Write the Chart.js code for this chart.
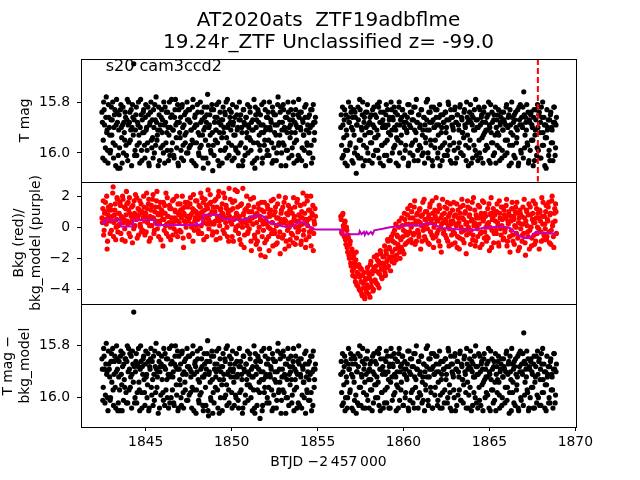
<!DOCTYPE html>
<html>
<head>
<meta charset="utf-8">
<script src="https://cdn.jsdelivr.net/npm/chart.js@4.4.1/dist/chart.umd.min.js"></script>
<style>
  body { margin: 0; background: #fff; }
  canvas { display: block; }
</style>
</head>
<body>
<canvas id="mycanvas" width="640" height="480"></canvas>
<script>
// BTJD - 2457000 (two orbits, gap around 1855.5); second block = in-between cadences
var btjd = [
  1842.45,1842.50,1842.55,1842.60,1842.65,1842.70,1842.75,1842.80,1842.85,1842.90,
  1842.95,1843.00,1843.05,1843.10,1843.15,1843.20,1843.25,1843.30,1843.35,1843.40,
  1843.45,1843.50,1843.55,1843.60,1843.65,1843.70,1843.75,1843.80,1843.85,1843.90,
  1843.95,1844.00,1844.05,1844.10,1844.15,1844.20,1844.25,1844.30,1844.35,1844.40,
  1844.45,1844.50,1844.55,1844.60,1844.65,1844.70,1844.75,1844.80,1844.85,1844.90,
  1844.95,1845.00,1845.05,1845.10,1845.15,1845.20,1845.25,1845.30,1845.35,1845.40,
  1845.45,1845.50,1845.55,1845.60,1845.65,1845.70,1845.75,1845.80,1845.85,1845.90,
  1845.95,1846.00,1846.05,1846.10,1846.15,1846.20,1846.25,1846.30,1846.35,1846.40,
  1846.45,1846.50,1846.55,1846.60,1846.65,1846.70,1846.75,1846.80,1846.85,1846.90,
  1846.95,1847.00,1847.05,1847.10,1847.15,1847.20,1847.25,1847.30,1847.35,1847.40,
  1847.45,1847.50,1847.55,1847.60,1847.65,1847.70,1847.75,1847.80,1847.85,1847.90,
  1847.95,1848.00,1848.05,1848.10,1848.15,1848.20,1848.25,1848.30,1848.35,1848.40,
  1848.45,1848.50,1848.55,1848.60,1848.65,1848.70,1848.75,1848.80,1848.85,1848.90,
  1848.95,1849.00,1849.05,1849.10,1849.15,1849.20,1849.25,1849.30,1849.35,1849.40,
  1849.45,1849.50,1849.55,1849.60,1849.65,1849.70,1849.75,1849.80,1849.85,1849.90,
  1849.95,1850.00,1850.05,1850.10,1850.15,1850.20,1850.25,1850.30,1850.35,1850.40,
  1850.45,1850.50,1850.55,1850.60,1850.65,1850.70,1850.75,1850.80,1850.85,1850.90,
  1850.95,1851.00,1851.05,1851.10,1851.15,1851.20,1851.25,1851.30,1851.35,1851.40,
  1851.45,1851.50,1851.55,1851.60,1851.65,1851.70,1851.75,1851.80,1851.85,1851.90,
  1851.95,1852.00,1852.05,1852.10,1852.15,1852.20,1852.25,1852.30,1852.35,1852.40,
  1852.45,1852.50,1852.55,1852.60,1852.65,1852.70,1852.75,1852.80,1852.85,1852.90,
  1852.95,1853.00,1853.05,1853.10,1853.15,1853.20,1853.25,1853.30,1853.35,1853.40,
  1853.45,1853.50,1853.55,1853.60,1853.65,1853.70,1853.75,1853.80,1853.85,1853.90,
  1853.95,1854.00,1854.05,1854.10,1854.15,1854.20,1854.25,1854.30,1854.35,1854.40,
  1854.45,1854.50,1854.55,1854.60,1854.65,1854.70,1854.75,1854.80,1854.85,
  1856.35,1856.40,1856.45,1856.50,1856.55,1856.60,1856.65,1856.70,1856.75,1856.80,
  1856.85,1856.90,1856.95,1857.00,1857.05,1857.10,1857.15,1857.20,1857.25,1857.30,
  1857.35,1857.40,1857.45,1857.50,1857.55,1857.60,1857.65,1857.70,1857.75,1857.80,
  1857.85,1857.90,1857.95,1858.00,1858.05,1858.10,1858.15,1858.20,1858.25,1858.30,
  1858.35,1858.40,1858.45,1858.50,1858.55,1858.60,1858.65,1858.70,1858.75,1858.80,
  1858.85,1858.90,1858.95,1859.00,1859.05,1859.10,1859.15,1859.20,1859.25,1859.30,
  1859.35,1859.40,1859.45,1859.50,1859.55,1859.60,1859.65,1859.70,1859.75,1859.80,
  1859.85,1859.90,1859.95,1860.00,1860.05,1860.10,1860.15,1860.20,1860.25,1860.30,
  1860.35,1860.40,1860.45,1860.50,1860.55,1860.60,1860.65,1860.70,1860.75,1860.80,
  1860.85,1860.90,1860.95,1861.00,1861.05,1861.10,1861.15,1861.20,1861.25,1861.30,
  1861.35,1861.40,1861.45,1861.50,1861.55,1861.60,1861.65,1861.70,1861.75,1861.80,
  1861.85,1861.90,1861.95,1862.00,1862.05,1862.10,1862.15,1862.20,1862.25,1862.30,
  1862.35,1862.40,1862.45,1862.50,1862.55,1862.60,1862.65,1862.70,1862.75,1862.80,
  1862.85,1862.90,1862.95,1863.00,1863.05,1863.10,1863.15,1863.20,1863.25,1863.30,
  1863.35,1863.40,1863.45,1863.50,1863.55,1863.60,1863.65,1863.70,1863.75,1863.80,
  1863.85,1863.90,1863.95,1864.00,1864.05,1864.10,1864.15,1864.20,1864.25,1864.30,
  1864.35,1864.40,1864.45,1864.50,1864.55,1864.60,1864.65,1864.70,1864.75,1864.80,
  1864.85,1864.90,1864.95,1865.00,1865.05,1865.10,1865.15,1865.20,1865.25,1865.30,
  1865.35,1865.40,1865.45,1865.50,1865.55,1865.60,1865.65,1865.70,1865.75,1865.80,
  1865.85,1865.90,1865.95,1866.00,1866.05,1866.10,1866.15,1866.20,1866.25,1866.30,
  1866.35,1866.40,1866.45,1866.50,1866.55,1866.60,1866.65,1866.70,1866.75,1866.80,
  1866.85,1866.90,1866.95,1867.00,1867.05,1867.10,1867.15,1867.20,1867.25,1867.30,
  1867.35,1867.40,1867.45,1867.50,1867.55,1867.60,1867.65,1867.70,1867.75,1867.80,
  1867.85,1867.90,1867.95,1868.00,1868.05,1868.10,1868.15,1868.20,1868.25,1868.30,
  1868.35,1868.40,1868.45,1868.50,1868.55,1868.60,1868.65,1868.70,1868.75,1868.80,
  1868.85,1868.90,
  1842.475,1842.525,1842.575,1842.625,1842.675,1842.725,1842.775,1842.825,1842.875,1842.925,
  1842.975,1843.025,1843.075,1843.125,1843.175,1843.225,1843.275,1843.325,1843.375,1843.425,
  1843.475,1843.525,1843.575,1843.625,1843.675,1843.725,1843.775,1843.825,1843.875,1843.925,
  1843.975,1844.025,1844.075,1844.125,1844.175,1844.225,1844.275,1844.325,1844.375,1844.425,
  1844.475,1844.525,1844.575,1844.625,1844.675,1844.725,1844.775,1844.825,1844.875,1844.925,
  1844.975,1845.025,1845.075,1845.125,1845.175,1845.225,1845.275,1845.325,1845.375,1845.425,
  1845.475,1845.525,1845.575,1845.625,1845.675,1845.725,1845.775,1845.825,1845.875,1845.925,
  1845.975,1846.025,1846.075,1846.125,1846.175,1846.225,1846.275,1846.325,1846.375,1846.425,
  1846.475,1846.525,1846.575,1846.625,1846.675,1846.725,1846.775,1846.825,1846.875,1846.925,
  1846.975,1847.025,1847.075,1847.125,1847.175,1847.225,1847.275,1847.325,1847.375,1847.425,
  1847.475,1847.525,1847.575,1847.625,1847.675,1847.725,1847.775,1847.825,1847.875,1847.925,
  1847.975,1848.025,1848.075,1848.125,1848.175,1848.225,1848.275,1848.325,1848.375,1848.425,
  1848.475,1848.525,1848.575,1848.625,1848.675,1848.725,1848.775,1848.825,1848.875,1848.925,
  1848.975,1849.025,1849.075,1849.125,1849.175,1849.225,1849.275,1849.325,1849.375,1849.425,
  1849.475,1849.525,1849.575,1849.625,1849.675,1849.725,1849.775,1849.825,1849.875,1849.925,
  1849.975,1850.025,1850.075,1850.125,1850.175,1850.225,1850.275,1850.325,1850.375,1850.425,
  1850.475,1850.525,1850.575,1850.625,1850.675,1850.725,1850.775,1850.825,1850.875,1850.925,
  1850.975,1851.025,1851.075,1851.125,1851.175,1851.225,1851.275,1851.325,1851.375,1851.425,
  1851.475,1851.525,1851.575,1851.625,1851.675,1851.725,1851.775,1851.825,1851.875,1851.925,
  1851.975,1852.025,1852.075,1852.125,1852.175,1852.225,1852.275,1852.325,1852.375,1852.425,
  1852.475,1852.525,1852.575,1852.625,1852.675,1852.725,1852.775,1852.825,1852.875,1852.925,
  1852.975,1853.025,1853.075,1853.125,1853.175,1853.225,1853.275,1853.325,1853.375,1853.425,
  1853.475,1853.525,1853.575,1853.625,1853.675,1853.725,1853.775,1853.825,1853.875,1853.925,
  1853.975,1854.025,1854.075,1854.125,1854.175,1854.225,1854.275,1854.325,1854.375,1854.425,
  1854.475,1854.525,1854.575,1854.625,1854.675,1854.725,1854.775,1854.825,1854.875,
  1856.375,1856.425,1856.475,1856.525,1856.575,1856.625,1856.675,1856.725,1856.775,1856.825,
  1856.875,1856.925,1856.975,1857.025,1857.075,1857.125,1857.175,1857.225,1857.275,1857.325,
  1857.375,1857.425,1857.475,1857.525,1857.575,1857.625,1857.675,1857.725,1857.775,1857.825,
  1857.875,1857.925,1857.975,1858.025,1858.075,1858.125,1858.175,1858.225,1858.275,1858.325,
  1858.375,1858.425,1858.475,1858.525,1858.575,1858.625,1858.675,1858.725,1858.775,1858.825,
  1858.875,1858.925,1858.975,1859.025,1859.075,1859.125,1859.175,1859.225,1859.275,1859.325,
  1859.375,1859.425,1859.475,1859.525,1859.575,1859.625,1859.675,1859.725,1859.775,1859.825,
  1859.875,1859.925,1859.975,1860.025,1860.075,1860.125,1860.175,1860.225,1860.275,1860.325,
  1860.375,1860.425,1860.475,1860.525,1860.575,1860.625,1860.675,1860.725,1860.775,1860.825,
  1860.875,1860.925,1860.975,1861.025,1861.075,1861.125,1861.175,1861.225,1861.275,1861.325,
  1861.375,1861.425,1861.475,1861.525,1861.575,1861.625,1861.675,1861.725,1861.775,1861.825,
  1861.875,1861.925,1861.975,1862.025,1862.075,1862.125,1862.175,1862.225,1862.275,1862.325,
  1862.375,1862.425,1862.475,1862.525,1862.575,1862.625,1862.675,1862.725,1862.775,1862.825,
  1862.875,1862.925,1862.975,1863.025,1863.075,1863.125,1863.175,1863.225,1863.275,1863.325,
  1863.375,1863.425,1863.475,1863.525,1863.575,1863.625,1863.675,1863.725,1863.775,1863.825,
  1863.875,1863.925,1863.975,1864.025,1864.075,1864.125,1864.175,1864.225,1864.275,1864.325,
  1864.375,1864.425,1864.475,1864.525,1864.575,1864.625,1864.675,1864.725,1864.775,1864.825,
  1864.875,1864.925,1864.975,1865.025,1865.075,1865.125,1865.175,1865.225,1865.275,1865.325,
  1865.375,1865.425,1865.475,1865.525,1865.575,1865.625,1865.675,1865.725,1865.775,1865.825,
  1865.875,1865.925,1865.975,1866.025,1866.075,1866.125,1866.175,1866.225,1866.275,1866.325,
  1866.375,1866.425,1866.475,1866.525,1866.575,1866.625,1866.675,1866.725,1866.775,1866.825,
  1866.875,1866.925,1866.975,1867.025,1867.075,1867.125,1867.175,1867.225,1867.275,1867.325,
  1867.375,1867.425,1867.475,1867.525,1867.575,1867.625,1867.675,1867.725,1867.775,1867.825,
  1867.875,1867.925,1867.975,1868.025,1868.075,1868.125,1868.175,1868.225,1868.275,1868.325,
  1868.375,1868.425,1868.475,1868.525,1868.575,1868.625,1868.675,1868.725,1868.775,1868.825,
  1868.875
];

// T mag (top panel)
var tmag = [
  15.84,16.02,15.80,15.89,15.98,15.78,15.91,16.04,15.86,15.93,
  15.99,15.82,15.87,15.96,15.90,15.83,16.05,15.79,15.88,16.01,
  15.85,16.06,15.81,15.94,15.89,16.00,15.92,15.84,15.97,15.87,
  16.03,15.80,15.88,15.95,15.83,15.90,15.86,15.65,16.01,15.91,
  15.82,15.97,15.89,15.93,16.04,15.79,15.99,15.87,15.84,15.92,
  16.02,15.81,15.90,15.96,15.85,16.05,15.88,15.80,15.98,15.94,
  15.83,16.00,15.87,15.78,15.95,15.91,15.82,16.03,15.89,15.86,
  15.92,15.97,15.80,16.04,15.88,15.84,15.99,15.90,15.93,16.01,
  15.86,15.79,15.96,15.91,16.02,15.83,15.89,15.98,15.81,16.05,
  15.88,15.94,15.99,15.82,15.90,16.03,15.85,15.96,15.92,15.80,
  16.00,15.87,15.83,15.97,15.91,15.95,15.79,16.04,15.86,15.89,
  15.96,15.81,15.92,16.01,15.98,15.88,15.84,15.93,16.06,15.82,
  15.90,16.02,15.85,15.77,15.97,15.89,15.93,16.00,15.81,16.07,
  15.83,15.88,15.95,15.91,15.86,16.03,15.80,15.92,15.99,15.87,
  16.04,15.82,15.90,15.84,15.98,15.94,15.79,15.89,16.01,15.86,
  15.91,15.97,15.81,15.88,16.02,15.93,15.99,15.85,15.90,16.05,
  15.80,15.87,15.96,15.92,16.03,15.83,15.89,15.98,15.86,15.94,
  16.00,15.90,15.82,15.95,15.88,16.04,15.91,15.79,16.06,15.85,
  15.87,15.96,15.84,15.93,15.99,15.89,15.81,16.02,15.92,15.97,
  15.83,15.90,16.01,15.86,15.95,15.80,15.91,15.88,16.04,15.84,
  15.98,15.92,15.85,16.03,15.89,15.78,15.96,15.93,15.82,16.00,
  15.88,15.81,15.97,15.91,16.05,15.86,15.99,15.84,15.90,15.94,
  15.83,16.01,15.87,15.80,15.96,15.92,15.89,16.03,15.85,15.79,
  16.02,15.90,15.84,15.98,15.88,15.93,15.82,16.05,15.91,15.97,
  15.86,15.92,16.00,15.83,16.04,15.89,15.81,15.95,15.88,
  15.90,15.97,15.82,16.01,15.87,16.04,15.85,15.93,15.99,15.80,
  15.88,15.96,15.84,16.03,15.91,15.83,16.00,15.86,16.08,15.89,
  15.82,16.02,15.79,15.95,15.90,15.85,16.05,15.88,15.93,15.84,
  15.98,15.81,15.89,16.03,15.86,15.92,15.96,15.83,16.01,15.90,
  15.85,15.94,15.91,15.99,15.82,15.80,16.04,15.88,15.97,15.87,
  15.84,16.01,15.90,15.81,15.95,15.89,16.03,15.86,15.93,15.83,
  16.00,15.87,15.82,15.97,15.91,15.94,15.85,16.05,15.80,15.89,
  15.96,15.86,15.83,16.02,15.90,15.99,15.88,15.92,15.81,16.04,
  15.89,15.84,15.97,15.87,16.01,15.82,15.91,15.95,15.79,15.88,
  16.03,15.85,15.90,15.98,15.83,15.93,16.00,15.86,15.89,15.96,
  15.87,15.79,16.02,15.91,15.84,15.97,15.88,16.05,15.82,15.90,
  15.95,15.86,15.83,16.00,15.89,15.81,15.98,15.92,16.03,15.85,
  15.88,15.96,15.84,15.90,16.01,15.80,15.87,15.97,15.83,16.04,
  15.86,15.91,15.99,15.82,15.88,16.02,15.85,15.89,15.96,15.81,
  16.00,15.87,15.92,15.94,15.83,15.90,16.03,15.86,15.88,15.98,
  15.84,15.81,16.04,15.89,15.86,15.97,15.91,15.79,16.01,15.87,
  15.90,15.95,15.83,16.02,15.85,15.88,15.93,15.82,15.99,15.91,
  15.86,15.98,15.80,15.89,16.04,15.92,15.84,15.96,15.87,16.00,
  15.82,15.90,15.97,15.85,15.93,16.03,15.88,15.84,15.99,15.91,
  15.87,16.01,15.89,15.81,15.95,15.86,16.05,15.83,15.92,15.80,
  15.97,15.88,15.85,16.02,15.90,15.94,15.83,16.04,15.87,15.81,
  16.00,15.89,15.82,15.76,15.98,15.86,15.91,15.96,15.84,16.03,
  15.88,15.85,15.95,15.90,16.05,15.83,15.93,15.87,16.01,15.81,
  15.99,15.84,15.92,16.02,15.86,15.80,15.97,15.89,15.94,16.06,
  15.83,15.90,16.01,15.87,15.85,15.96,15.91,16.03,15.82,15.88,
  15.98,15.86,
  15.88,15.95,15.83,16.03,15.86,15.92,15.99,15.81,15.90,16.00,
  15.87,15.93,15.80,16.02,15.85,15.97,15.89,15.84,16.06,15.91,
  15.98,15.83,15.90,16.04,15.82,15.88,15.95,15.86,16.01,15.79,
  15.89,15.96,15.84,15.91,16.05,15.81,15.93,15.87,15.99,15.85,
  16.01,15.88,15.80,15.96,15.90,15.85,16.03,15.92,15.83,15.97,
  15.86,15.91,15.99,15.82,16.04,15.89,15.84,15.95,15.87,16.02,
  15.90,15.81,15.97,15.88,15.93,16.05,15.85,15.91,15.98,15.83,
  15.87,16.00,15.89,15.82,15.96,15.92,15.84,16.03,15.80,15.90,
  15.99,15.85,15.91,16.01,15.86,15.79,15.94,15.88,16.04,15.83,
  15.92,15.86,16.02,15.81,15.97,15.89,15.93,15.84,16.00,15.87,
  15.83,15.98,15.88,15.91,16.03,15.82,15.96,15.90,15.85,16.05,
  15.89,15.84,16.00,15.93,15.80,15.97,15.87,16.02,15.91,15.86,
  15.95,15.88,15.82,16.04,15.90,15.85,15.99,15.83,15.92,15.97,
  16.01,15.86,15.91,15.81,15.96,15.88,16.05,15.84,15.89,15.94,
  15.87,15.92,15.99,15.85,15.80,16.02,15.90,15.96,15.83,15.88,
  15.84,16.03,15.89,15.93,15.86,15.98,15.82,15.91,16.00,15.87,
  15.97,15.85,15.90,16.05,15.83,15.88,16.01,15.86,15.92,15.81,
  15.89,15.94,15.84,15.99,15.91,15.87,15.96,16.03,15.82,15.90,
  16.02,15.83,15.88,15.97,15.85,15.92,16.04,15.89,15.80,15.95,
  15.91,15.86,15.99,15.84,16.01,15.90,15.87,15.96,15.82,16.03,
  15.85,15.89,15.93,16.00,15.81,15.97,15.88,15.84,16.05,15.91,
  15.96,15.83,15.90,15.86,15.99,15.92,15.80,16.02,15.87,15.89,
  15.92,15.98,15.85,16.04,15.88,15.83,15.95,15.90,16.01,15.86,
  15.84,15.91,16.03,15.87,15.93,15.99,15.86,15.81,15.96,15.89,
  16.00,15.85,15.90,15.97,15.83,16.02,15.88,15.92,15.86,
  15.85,16.02,15.89,15.94,15.83,15.99,15.91,16.05,15.86,15.88,
  15.97,15.82,15.90,15.86,16.04,15.93,15.84,15.98,15.89,16.01,
  15.87,15.95,15.83,16.02,15.91,15.80,15.97,15.86,16.03,15.90,
  15.84,16.00,15.92,15.88,15.96,15.85,16.04,15.89,15.82,15.94,
  15.99,15.86,15.81,15.93,16.02,15.88,15.84,15.97,15.90,16.05,
  15.89,15.96,15.85,16.01,15.83,15.92,15.87,16.03,15.80,15.91,
  15.86,15.98,15.90,15.84,16.04,15.89,15.95,15.82,16.00,15.87,
  15.93,15.83,16.02,15.88,15.85,15.97,15.91,15.86,16.05,15.81,
  16.00,15.90,15.84,15.96,15.87,16.03,15.82,15.92,15.88,15.99,
  15.85,15.97,15.89,15.83,16.01,15.91,15.86,16.04,15.94,15.80,
  15.91,16.00,15.84,15.88,15.95,15.82,16.03,15.87,15.90,15.98,
  15.83,15.89,16.02,15.93,15.86,16.05,15.85,15.90,15.97,15.88,
  16.01,15.84,15.92,15.87,15.99,15.81,15.94,16.03,15.86,15.89,
  15.90,15.96,15.83,16.04,15.88,15.85,15.98,15.91,15.82,16.00,
  15.86,15.92,16.01,15.84,15.89,15.97,15.80,15.93,16.05,15.87,
  15.95,15.88,15.85,16.02,15.91,15.83,15.99,15.87,15.90,16.03,
  15.82,16.00,15.89,15.86,15.94,16.04,15.84,15.92,15.88,15.97,
  15.91,15.85,16.03,15.90,15.81,15.96,15.88,16.01,15.85,15.93,
  16.04,15.87,15.92,15.83,15.98,15.89,15.86,16.02,15.91,15.84,
  15.88,15.95,15.82,16.00,15.90,15.85,15.97,15.89,16.04,15.86,
  15.93,16.01,15.87,15.84,15.96,15.91,16.05,15.82,15.89,15.99,
  15.86,15.90,16.02,15.85,15.93,15.88,15.81,15.97,16.04,15.87,
  15.99,15.84,15.89,15.95,15.86,16.03,15.91,15.83,15.98,15.90,
  15.85,16.02,15.88,15.82,15.97,15.92,15.86,16.05,15.89,15.94,
  15.91,15.87,15.99,16.03,15.84,15.90,15.96,15.88,15.82,16.01,
  15.89
];

// background flux (middle panel, red points)
var bkg = [
  0.6,1.2,-0.5,0.9,1.6,0.2,-1.4,0.8,1.1,0.4,
  1.4,-0.2,0.7,2.6,0.3,1.1,-0.8,0.5,1.8,0.1,
  0.9,1.6,-0.4,0.6,2.0,0.3,1.3,-0.9,0.8,1.5,
  0.2,1.1,1.9,-0.6,0.7,0.4,1.4,-0.1,0.9,2.1,
  0.5,-0.7,1.2,0.8,1.7,0.0,-0.3,1.0,0.6,1.3,
  -0.5,0.9,2.2,0.3,1.5,-0.9,0.7,1.1,0.1,1.8,
  0.6,-0.2,1.3,0.4,2.3,0.9,-0.6,0.2,1.6,0.8,
  1.0,-1.2,0.5,1.4,0.1,-0.4,1.9,0.7,0.3,1.2,
  -0.8,0.6,1.7,0.2,-0.1,1.1,0.5,2.0,-0.6,0.9,
  0.3,1.5,-0.3,0.8,1.2,-1.3,0.4,1.6,0.0,0.7,
  1.3,-0.5,0.6,1.9,0.2,0.9,-0.9,1.1,0.4,1.7,
  0.1,0.8,-0.2,1.4,0.6,2.2,-0.4,1.0,1.6,0.3,
  1.8,0.7,-0.6,1.2,0.5,1.5,2.1,0.2,1.0,-0.3,
  0.9,1.7,0.4,-0.8,1.3,0.6,2.3,0.1,1.1,0.8,
  1.5,-0.2,0.7,1.9,0.3,1.2,-0.6,0.9,2.5,0.4,
  1.1,0.2,1.6,-0.9,0.6,2.4,0.0,0.8,1.3,-0.4,
  0.7,1.4,-1.1,0.3,2.5,0.9,-0.5,0.5,1.2,0.1,
  -0.3,1.0,0.4,1.8,-1.5,0.6,0.2,1.3,-0.7,0.8,
  0.3,-0.9,1.5,0.0,0.7,-1.8,1.1,0.4,-0.2,1.6,
  -1.9,0.6,0.2,1.2,-0.6,0.9,-0.1,1.7,0.3,-1.2,
  0.8,-0.4,1.3,0.1,-1.0,0.6,2.0,-0.3,0.5,1.1,
  -0.7,0.3,1.6,-1.4,0.4,0.9,-0.2,1.4,0.0,-0.8,
  1.2,0.2,-0.5,1.9,0.7,-1.1,0.4,1.6,-0.3,0.8,
  0.1,1.4,-0.9,0.6,2.2,-0.2,0.9,-1.3,0.3,1.7,
  0.5,-0.6,1.1,2.0,-0.1,0.8,-1.5,0.4,1.2,
  0.7,-0.3,0.8,0.1,-0.6,0.4,-1.1,-0.2,-1.6,-0.7,
  -2.0,-0.9,-2.5,-1.4,-3.1,-1.8,-2.3,-3.5,-1.6,-2.9,
  -3.8,-2.4,-3.2,-4.1,-2.7,-4.4,-3.6,-2.9,-4.6,-3.3,
  -4.2,-2.6,-3.9,-3.1,-4.5,-2.2,-3.5,-2.8,-4.0,-1.9,
  -3.4,-2.5,-1.8,-3.7,-2.2,-3.0,-1.5,-2.7,-3.3,-1.9,
  -2.4,-1.2,-3.1,-1.7,-2.6,-0.9,-2.0,-1.4,-2.8,-0.6,
  -1.6,-0.4,-2.3,-1.0,0.2,-1.8,-0.6,-1.3,0.4,-2.0,
  -0.8,0.6,-1.5,-0.2,0.9,-1.1,0.2,-0.5,1.2,-0.9,
  -0.3,1.4,0.0,-1.0,0.6,-0.4,1.7,0.2,-0.9,0.9,
  0.4,-0.6,1.2,-1.4,0.1,0.8,-0.2,1.8,0.5,-0.8,
  1.0,-0.1,0.6,-1.1,1.5,0.3,-0.5,0.9,-1.3,0.2,
  0.7,1.9,-0.4,0.4,-0.9,1.2,0.0,-1.6,0.8,0.3,
  -0.2,1.3,0.5,-0.7,1.6,0.1,-1.2,0.9,0.4,-0.5,
  1.1,-0.3,0.7,-1.0,0.2,1.5,-0.6,0.6,-1.4,0.9,
  0.0,1.8,-0.8,0.5,-0.2,1.0,-1.7,0.3,1.3,-0.4,
  0.8,-1.1,0.4,1.6,-0.5,0.1,1.1,-0.9,0.6,-0.1,
  1.4,0.2,-1.3,0.7,-0.3,1.7,0.5,-0.7,0.9,0.0,
  -0.6,1.2,0.3,-1.5,0.8,1.9,-0.2,0.6,-1.0,1.0,
  0.4,-0.4,1.5,0.1,-1.2,0.9,-0.1,1.3,0.5,-0.8,
  1.1,-0.3,0.6,1.8,-0.9,0.2,0.8,-1.6,0.4,1.2,
  -0.5,0.7,-1.1,1.0,0.0,1.6,-0.7,0.3,-1.3,0.9,
  0.2,-0.9,1.3,-0.4,0.6,-1.8,1.1,0.1,-0.6,1.5,
  -0.2,0.8,-1.2,0.5,1.7,-0.5,0.3,-0.9,1.2,0.0,
  0.6,-1.4,1.0,-0.3,1.9,0.2,-0.8,0.7,-0.1,1.4,
  -0.6,0.4,1.6,-1.0,0.9,-0.2,2.0,0.3,-1.3,1.2,
  1.5,-0.4,
  0.3,1.7,-0.2,1.0,0.5,2.0,-0.9,1.3,0.6,-0.4,
  1.1,0.4,2.2,-0.6,0.8,1.5,0.0,1.9,-0.3,0.9,
  0.2,1.4,0.7,-0.8,1.8,0.5,-0.1,1.2,2.3,0.4,
  1.6,-0.4,0.9,0.3,1.3,-1.0,0.6,1.7,0.1,0.8,
  1.9,0.6,-0.5,1.1,0.2,1.5,0.9,-0.2,2.0,0.4,
  0.7,-0.3,1.2,0.5,1.8,0.1,-0.7,1.4,0.6,2.1,
  -0.4,1.0,0.3,1.7,-0.1,0.8,1.3,0.4,-0.8,1.1,
  0.5,1.6,-0.2,0.9,2.2,0.2,0.7,-0.6,1.4,0.0,
  1.2,0.3,-0.5,1.8,0.6,1.0,-0.3,0.4,1.5,0.8,
  -0.2,1.1,0.6,2.0,-0.7,0.9,1.3,0.2,0.7,1.6,
  0.4,-0.6,1.5,0.8,0.0,1.2,2.1,-0.2,0.6,1.0,
  1.7,0.5,-0.4,0.9,1.3,0.1,1.9,0.7,-0.8,1.1,
  0.6,1.4,0.2,2.4,-0.1,0.8,1.6,0.3,-0.5,1.3,
  0.2,1.0,1.8,-0.3,0.7,2.0,0.4,-0.7,1.2,0.5,
  0.9,2.2,-0.4,0.6,1.4,0.0,1.1,-0.9,0.7,1.8,
  0.3,-0.6,1.2,0.5,1.7,-0.2,0.9,2.3,0.1,0.6,
  -0.8,0.4,1.5,0.0,0.8,-1.3,1.1,0.3,2.0,-0.4,
  1.4,-0.1,0.6,-0.9,1.0,0.2,1.9,-0.5,0.7,-1.1,
  0.9,-0.3,1.2,-1.4,0.5,1.6,-0.6,0.2,1.0,-1.0,
  0.4,-0.8,1.4,0.0,-1.5,0.7,1.1,-0.4,0.3,1.8,
  -0.2,1.0,-1.1,0.6,1.5,-0.6,0.2,-1.7,0.9,0.4,
  1.3,-0.5,0.5,1.9,-0.9,0.1,0.8,-1.2,1.1,0.3,
  -0.4,0.9,-1.0,0.5,1.3,0.0,-0.7,1.8,0.4,-0.2,
  0.7,-1.1,1.0,0.2,-0.5,1.5,0.5,-0.8,2.0,0.1,
  1.1,-0.3,0.6,-1.2,0.9,1.4,-0.4,0.2,0.7,
  0.5,-0.4,0.9,-0.1,0.3,-0.8,0.0,-1.3,-0.5,-1.8,
  -1.1,-2.3,-1.6,-2.8,-2.0,-2.6,-3.2,-2.1,-3.7,-2.5,
  -3.0,-4.0,-2.6,-3.5,-4.3,-3.1,-3.9,-4.5,-3.4,-4.1,
  -3.7,-2.9,-4.3,-3.3,-2.4,-3.8,-3.0,-4.1,-2.6,-3.4,
  -2.8,-3.6,-2.1,-2.9,-3.9,-2.4,-1.7,-3.2,-2.3,-2.7,
  -1.9,-2.9,-1.5,-2.2,-0.8,-2.5,-1.3,-1.9,-0.7,-2.2,
  -0.9,-1.9,-0.2,-1.4,-2.1,-0.5,-1.1,0.0,-1.6,-0.7,
  -1.3,0.1,-0.6,-1.7,0.5,-0.3,-1.0,0.8,-0.4,0.2,
  0.6,-0.8,1.0,0.2,-0.5,1.3,-1.1,0.4,0.8,-0.2,
  -0.4,1.1,0.3,0.7,-0.9,1.6,0.1,-0.6,1.0,0.5,
  0.2,-1.0,0.8,1.3,-0.3,0.5,1.7,-0.7,0.0,1.1,
  -0.6,0.5,1.0,-0.2,1.4,-1.2,0.6,0.2,1.8,-0.4,
  0.9,-0.5,0.3,1.2,-0.9,0.7,-0.1,1.5,0.2,-1.1,
  0.4,1.6,-0.4,0.8,0.1,-1.3,1.1,0.3,-0.7,1.3,
  -0.3,0.6,1.4,-1.0,0.9,0.2,-0.5,1.7,0.0,0.7,
  1.2,-0.2,0.5,-0.8,1.9,0.3,-1.2,0.8,0.1,-0.6,
  0.6,1.3,-0.4,0.9,-1.1,0.4,1.6,-0.3,0.7,-0.9,
  0.2,-0.7,1.5,0.0,0.9,-1.3,0.5,1.2,-0.4,0.8,
  -0.2,1.0,0.3,-1.0,1.7,0.6,-0.5,0.1,1.3,-0.7,
  0.8,-0.1,1.4,-1.2,0.4,1.0,-0.6,0.7,-0.2,1.6,
  -0.9,0.5,0.1,1.3,-0.4,0.9,-1.5,0.6,1.1,-0.1,
  0.7,-0.5,0.2,1.8,-1.0,0.4,1.0,-0.3,0.8,-1.4,
  1.3,0.0,-0.7,0.9,0.3,-1.1,1.5,0.6,-0.4,0.9,
  -0.1,1.1,0.4,-0.9,0.7,1.6,-0.5,0.2,1.0,-0.8,
  0.5,1.3,-0.3,0.8,-1.1,1.7,0.1,-0.6,0.9,0.4,
  1.0
];

// T mag - bkg_model (bottom panel)
var tmagCorr = [
  15.85,16.01,15.81,15.89,15.99,15.79,15.90,16.05,15.87,15.92,
  16.00,15.83,15.86,15.97,15.91,15.84,16.04,15.80,15.89,16.02,
  15.86,16.05,15.82,15.95,15.88,16.01,15.93,15.85,15.98,15.86,
  16.02,15.81,15.89,15.96,15.84,15.91,15.87,15.67,16.02,15.90,
  15.83,15.98,15.88,15.94,16.05,15.80,15.98,15.88,15.85,15.93,
  16.03,15.82,15.91,15.95,15.86,16.04,15.89,15.81,15.99,15.93,
  15.84,16.01,15.88,15.79,15.96,15.90,15.83,16.04,15.88,15.87,
  15.93,15.98,15.81,16.03,15.89,15.85,16.00,15.91,15.92,16.02,
  15.87,15.80,15.97,15.90,16.03,15.84,15.88,15.99,15.82,16.04,
  15.89,15.95,16.00,15.83,15.91,16.04,15.86,15.97,15.91,15.81,
  16.01,15.88,15.84,15.98,15.90,15.96,15.80,16.05,15.87,15.88,
  15.97,15.82,15.93,16.02,15.99,15.89,15.85,15.92,16.05,15.83,
  15.91,16.03,15.86,15.78,16.07,15.90,15.94,16.01,15.82,16.06,
  15.84,15.89,15.96,15.90,15.87,16.04,15.81,15.93,16.00,15.88,
  16.05,15.83,15.91,15.85,15.99,15.95,15.80,15.90,16.02,15.87,
  15.92,15.98,15.82,15.89,16.03,15.92,16.00,15.86,15.91,16.04,
  15.81,15.88,15.97,15.93,16.04,15.84,15.90,15.99,15.87,15.95,
  16.01,15.91,15.83,15.96,15.89,16.05,15.92,15.80,16.06,15.86,
  15.88,15.97,15.85,15.94,16.08,15.90,15.82,16.03,15.93,15.98,
  15.84,15.91,16.02,15.87,15.96,15.81,15.92,15.89,16.05,15.85,
  15.99,15.93,15.86,16.04,15.90,15.79,15.97,15.94,15.83,16.01,
  15.89,15.82,15.98,15.92,16.06,15.87,16.00,15.85,15.91,15.95,
  15.84,16.02,15.88,15.81,15.97,15.93,15.90,16.04,15.86,15.80,
  16.03,15.91,15.85,15.99,15.89,15.94,15.83,16.06,15.92,15.98,
  15.87,15.93,16.01,15.84,16.05,15.90,15.82,15.96,15.89,
  15.91,15.98,15.83,16.02,15.88,16.05,15.86,15.94,16.00,15.81,
  15.89,15.97,15.85,16.04,15.92,15.84,16.01,15.87,16.06,15.90,
  15.83,16.03,15.80,15.96,15.91,15.86,16.04,15.89,15.94,15.85,
  15.99,15.82,15.90,16.04,15.87,15.93,15.97,15.84,16.02,15.91,
  15.86,15.95,15.92,16.00,15.83,15.81,16.05,15.89,15.98,15.88,
  15.85,16.02,15.91,15.82,15.96,15.90,16.04,15.87,15.94,15.84,
  16.01,15.88,15.83,15.98,15.92,15.95,15.86,16.04,15.81,15.90,
  15.97,15.87,15.84,16.03,15.91,16.00,15.89,15.93,15.82,16.05,
  15.90,15.85,15.98,15.88,16.02,15.83,15.92,15.96,15.80,15.89,
  16.04,15.86,15.91,15.99,15.84,15.94,16.01,15.87,15.90,15.97,
  15.88,15.80,16.03,15.92,15.85,15.98,15.89,16.04,15.83,15.91,
  15.96,15.87,15.84,16.01,15.90,15.82,15.99,15.93,16.04,15.86,
  15.89,15.97,15.85,15.91,16.02,15.81,15.88,15.98,15.84,16.05,
  15.87,15.92,16.00,15.83,15.89,16.03,15.86,15.90,15.97,15.82,
  16.01,15.88,15.93,15.95,15.84,15.91,16.04,15.87,15.89,15.99,
  15.85,15.82,16.05,15.90,15.87,15.98,15.92,15.80,16.02,15.88,
  15.91,15.96,15.84,16.03,15.86,15.89,15.94,15.83,16.00,15.92,
  15.87,15.99,15.81,15.90,16.05,15.93,15.85,15.97,15.88,16.01,
  15.83,15.91,15.98,15.86,15.94,16.04,15.89,15.85,16.00,15.92,
  15.88,16.02,15.90,15.82,15.96,15.87,16.06,15.84,15.93,15.81,
  15.98,15.89,15.86,16.03,15.91,15.95,15.84,16.05,15.88,15.82,
  16.01,15.90,15.83,15.75,15.99,15.87,15.92,15.97,15.85,16.04,
  15.89,15.86,15.96,15.91,16.04,15.84,15.94,15.88,16.02,15.82,
  16.00,15.85,15.93,16.03,15.87,15.81,15.98,15.90,15.95,16.05,
  15.84,15.91,16.02,15.88,15.86,15.97,15.92,16.04,15.83,15.89,
  15.99,15.87,
  15.89,15.96,15.84,16.02,15.87,15.91,16.00,15.82,15.89,16.01,
  15.86,15.94,15.81,16.03,15.86,15.96,15.90,15.85,16.05,15.92,
  15.97,15.84,15.91,16.05,15.83,15.87,15.96,15.85,16.02,15.80,
  15.90,15.97,15.83,15.92,16.04,15.82,15.94,15.88,16.00,15.86,
  16.02,15.87,15.81,15.97,15.89,15.86,16.04,15.91,15.84,15.98,
  15.87,15.92,16.00,15.83,16.05,15.88,15.85,15.96,15.86,16.03,
  15.91,15.82,15.98,15.89,15.92,16.06,15.86,15.90,15.99,15.84,
  15.88,16.01,15.88,15.83,15.97,15.93,15.85,16.04,15.81,15.91,
  16.00,15.86,15.92,16.02,15.87,15.80,15.95,15.89,16.05,15.84,
  15.93,15.87,16.03,15.82,15.98,15.90,15.94,15.85,16.01,15.88,
  15.84,15.99,15.89,15.92,16.04,15.83,15.97,15.91,15.86,16.06,
  15.90,15.85,16.01,15.94,15.81,15.98,15.88,16.03,15.92,15.87,
  15.96,15.89,15.83,16.05,15.91,15.86,16.00,15.84,15.93,15.98,
  16.02,15.87,15.92,15.82,15.97,15.89,16.06,15.85,15.90,15.95,
  15.88,15.93,16.00,15.86,15.81,16.03,15.91,15.97,15.84,15.89,
  15.85,16.04,15.90,15.94,15.87,15.99,15.83,15.92,16.01,15.88,
  15.98,15.86,15.91,16.06,15.84,15.89,16.02,15.87,15.93,15.82,
  15.90,15.95,15.85,16.00,15.92,15.88,15.97,16.04,15.83,15.91,
  16.03,15.84,15.89,15.98,15.86,15.93,16.05,15.90,15.81,15.96,
  15.92,15.87,16.00,15.85,16.02,15.91,15.88,15.97,15.83,16.04,
  15.86,15.90,15.94,16.01,15.82,15.98,15.89,15.85,16.06,15.92,
  15.97,15.84,15.91,15.87,16.00,15.93,15.81,16.03,15.88,15.90,
  15.93,15.99,15.86,16.05,15.89,15.84,15.96,15.91,16.02,15.87,
  15.85,15.92,16.04,15.88,15.94,16.00,15.87,15.82,15.97,15.90,
  16.01,15.86,15.91,15.98,15.84,16.03,15.89,15.93,15.87,
  15.86,16.03,15.90,15.95,15.84,16.00,15.92,16.04,15.87,15.89,
  15.98,15.83,15.91,15.87,16.05,15.94,15.85,15.99,15.90,16.02,
  15.88,15.96,15.84,16.03,15.92,15.81,15.98,15.87,16.04,15.91,
  15.85,16.01,15.93,15.89,15.97,15.86,16.05,15.90,15.83,15.95,
  16.00,15.87,15.82,15.94,16.03,15.89,15.85,15.98,15.91,16.04,
  15.90,15.97,15.86,16.02,15.84,15.93,15.88,16.04,15.81,15.92,
  15.87,15.99,15.91,15.85,16.05,15.90,15.96,15.83,16.01,15.88,
  15.94,15.84,16.03,15.89,15.86,15.98,15.92,15.87,16.04,15.82,
  16.01,15.91,15.85,15.97,15.88,16.04,15.83,15.93,15.89,16.00,
  15.86,15.98,15.90,15.84,16.02,15.92,15.87,16.05,15.95,15.81,
  15.92,16.01,15.85,15.89,15.96,15.83,16.04,15.88,15.91,15.99,
  15.84,15.90,16.03,15.94,15.87,16.04,15.86,15.91,15.98,15.89,
  16.02,15.85,15.93,15.88,16.00,15.82,15.95,16.04,15.87,15.90,
  15.91,15.97,15.84,16.05,15.89,15.86,15.99,15.92,15.83,16.01,
  15.87,15.93,16.02,15.85,15.90,15.98,15.81,15.94,16.04,15.88,
  15.96,15.89,15.86,16.03,15.92,15.84,16.00,15.88,15.91,16.04,
  15.83,16.01,15.90,15.87,15.95,16.05,15.85,15.93,15.89,15.98,
  15.92,15.86,16.04,15.91,15.82,15.97,15.89,16.02,15.86,15.94,
  16.05,15.88,15.93,15.84,15.99,15.90,15.87,16.03,15.92,15.85,
  15.89,15.96,15.83,16.01,15.91,15.86,15.98,15.90,16.05,15.87,
  15.94,16.02,15.88,15.85,15.97,15.92,16.04,15.83,15.90,16.00,
  15.87,15.91,16.03,15.86,15.94,15.89,15.82,15.98,16.05,15.88,
  16.00,15.85,15.90,15.96,15.87,16.04,15.92,15.84,15.99,15.91,
  15.86,16.03,15.89,15.83,15.98,15.93,15.87,16.04,15.90,15.95,
  15.92,15.88,16.00,16.02,15.85,15.91,15.97,15.89,15.83,16.02,
  15.90
];

// smoothed background model (purple line)
var modelT = [1842.45,1842.58,1842.62,1843.50,1843.58,1844.22,1844.28,1845.50,1845.58,1847.85,
  1847.95,1848.05,1848.25,1848.35,1849.20,1849.50,1850.40,1850.90,1851.30,1851.80,
  1852.20,1852.60,1853.00,1853.60,1853.90,1854.20,1854.60,1854.85,1856.35,1856.45,
  1857.40,1857.45,1857.55,1857.70,1857.75,1857.85,1857.95,1858.10,1858.20,1858.30,
  1858.80,1859.20,1859.70,1860.30,1860.90,1861.30,1861.70,1862.20,1862.80,1863.30,
  1864.00,1864.60,1865.10,1865.70,1866.20,1866.60,1867.00,1867.40,1867.70,1868.20,
  1868.60,1868.90];
var modelBkg = [0.26,0.26,0.47,0.47,0.04,0.04,0.47,0.47,0.15,0.15,
  0.30,0.12,0.20,0.80,0.80,0.55,0.47,0.55,0.75,0.72,
  0.30,0.20,0.05,0.08,0.35,0.30,0.00,-0.15,-0.15,-0.45,
  -0.45,-0.25,-0.45,-0.30,-0.50,-0.30,-0.45,-0.30,-0.45,-0.20,
  -0.10,0.00,0.05,0.15,0.10,0.25,0.20,-0.05,-0.10,-0.15,
  -0.20,-0.05,0.00,0.05,-0.05,-0.45,-0.70,-0.65,-0.30,-0.35,
  -0.40,-0.40];

var eventT = [1867.82];
var xTicks = [1845, 1850, 1855, 1860, 1865, 1870];
var magTicks = [15.8, 16.0];
var bkgTicks = [2, 0, -2, -4];

var FONT = "'DejaVu Sans', sans-serif";
var topMin = 15.631, topMax = 16.113;

function pts(ys) {
  var out = [];
  for (var i = 0; i < btjd.length; i++) out.push({x: btjd[i], y: ys[i]});
  return out;
}
function fixTicks(vals) {
  return function(s) { s.ticks = vals.map(function(v){ return {value: v}; }); };
}
function minus(v) { return v < 0 ? '\u2212' + Math.abs(v) : String(v); }

// panel frames and the sector label
var framePlugin = {
  id: 'frame',
  afterDraw: function(chart) {
    var ctx = chart.ctx, a = chart.chartArea;
    ctx.save();
    ctx.strokeStyle = '#000';
    ctx.lineWidth = 1;
    ['yTop', 'yMid', 'yBot'].forEach(function(id) {
      var s = chart.scales[id];
      var x0 = Math.round(a.left) + 0.5, y0 = Math.round(s.top) + 0.5;
      ctx.strokeRect(x0, y0, Math.round(a.right) - Math.round(a.left), Math.round(s.bottom) - Math.round(s.top));
    });
    var st = chart.scales.yTop;
    ctx.fillStyle = '#000';
    ctx.font = "16px " + FONT;
    ctx.textBaseline = 'alphabetic';
    ctx.textAlign = 'left';
    ctx.fillText('s20 cam3ccd2', a.left + 0.05 * (a.right - a.left), st.top + 0.1 * (st.bottom - st.top));
    ctx.restore();
  }
};

var tickGrid = { display: true, drawOnChartArea: false, drawTicks: true, tickLength: 4, color: '#000' };
var tickFont = { family: FONT, size: 13.9 };

var ctx = document.getElementById('mycanvas');
var chart = new Chart(ctx, {
  type: 'scatter',
  data: {
    datasets: [
      {
        data: [{x: eventT[0], y: topMin}, {x: eventT[0], y: topMax}],
        yAxisID: 'yTop', showLine: true, pointRadius: 0,
        borderColor: '#ff0000', borderWidth: 2, borderDash: [6, 3]
      },
      {
        data: modelT.map(function(t, i){ return {x: t, y: modelBkg[i]}; }),
        yAxisID: 'yMid', showLine: true, pointRadius: 0,
        borderColor: '#bf00bf', borderWidth: 2
      },
      {
        data: pts(tmag), yAxisID: 'yTop',
        pointRadius: 2.6, backgroundColor: '#000', borderWidth: 0
      },
      {
        data: pts(bkg), yAxisID: 'yMid',
        pointRadius: 2.6, backgroundColor: '#ff0000', borderWidth: 0
      },
      {
        data: pts(tmagCorr), yAxisID: 'yBot',
        pointRadius: 2.6, backgroundColor: '#000', borderWidth: 0
      }
    ]
  },
  options: {
    responsive: false,
    animation: false,
    devicePixelRatio: 1,
    layout: { padding: { left: 0, right: 64, top: 0, bottom: 0 } },
    plugins: {
      legend: { display: false },
      tooltip: { enabled: false },
      title: {
        display: true,
        fullSize: false,
        text: ['AT2020ats  ZTF19adbflme', '19.24r_ZTF Unclassified z= -99.0'],
        color: '#000',
        font: { family: FONT, size: 20, weight: 'normal', lineHeight: 1.1 },
        padding: { top: 10, bottom: 5 }
      }
    },
    scales: {
      x: {
        type: 'linear', position: 'bottom',
        min: 1841.23, max: 1870.04,
        afterBuildTicks: fixTicks(xTicks),
        afterFit: function(s) { s.height = 53; },
        grid: tickGrid,
        border: { display: false },
        ticks: { color: '#000', font: tickFont, padding: 3, maxRotation: 0, autoSkip: false,
          callback: function(v) { return String(v); } },
        title: { display: true, text: 'BTJD \u22122\u2009457\u2009000', color: '#000',
          font: tickFont, padding: { top: 2, bottom: 9 } }
      },
      yBot: {
        type: 'linear', position: 'left', stack: 'panels', stackWeight: 1,
        reverse: true, min: 15.64, max: 16.113,
        afterBuildTicks: fixTicks(magTicks),
        afterFit: function(s) { s.width = 81; },
        grid: tickGrid,
        border: { display: false },
        ticks: { color: '#000', font: tickFont, padding: 7,
          callback: function(v) { return v.toFixed(1); } },
        title: { display: true, text: ['T mag \u2212', 'bkg_model'], color: '#000',
          font: tickFont, padding: { top: 0, bottom: 0 } }
      },
      yMid: {
        type: 'linear', position: 'left', stack: 'panels', stackWeight: 1,
        min: -4.96, max: 2.93,
        afterBuildTicks: fixTicks(bkgTicks),
        afterFit: function(s) { s.width = 81; },
        grid: tickGrid,
        border: { display: false },
        ticks: { color: '#000', font: tickFont, padding: 7, callback: minus },
        title: { display: true, text: ['Bkg (red)/', 'bkg_model (purple)'], color: '#000',
          font: tickFont, padding: { top: 11, bottom: 0 } }
      },
      yTop: {
        type: 'linear', position: 'left', stack: 'panels', stackWeight: 1,
        reverse: true, min: topMin, max: topMax,
        afterBuildTicks: fixTicks(magTicks),
        afterFit: function(s) { s.width = 81; },
        grid: tickGrid,
        border: { display: false },
        ticks: { color: '#000', font: tickFont, padding: 7,
          callback: function(v) { return v.toFixed(1); } },
        title: { display: true, text: 'T mag', color: '#000',
          font: tickFont, padding: { top: 17, bottom: 0 } }
      }
    }
  },
  plugins: [framePlugin]
});
</script>
</body>
</html>
